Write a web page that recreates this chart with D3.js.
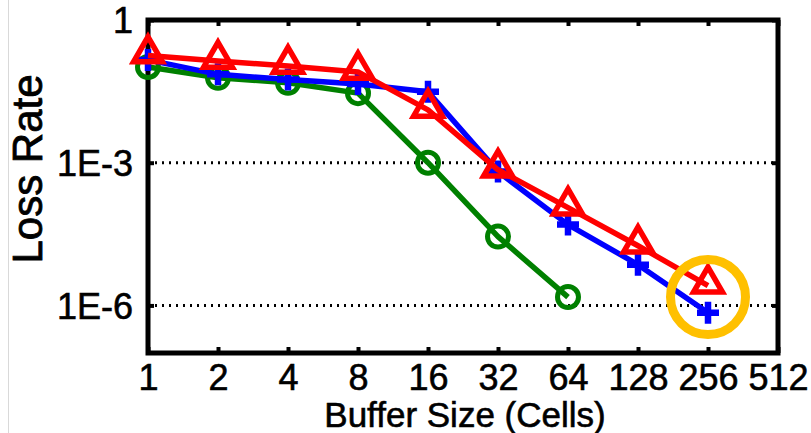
<!DOCTYPE html>
<html>
<head>
<meta charset="utf-8">
<script src="https://cdn.jsdelivr.net/npm/d3@7"></script>
<style>
  html, body { margin: 0; padding: 0; background: #fff; }
  svg { display: block; font-family: "Liberation Sans", Arial, sans-serif; }
</style>
</head>
<body>
<svg id="chart" width="811" height="433"></svg>
<script>
// ---- data ----
const bufferSizes = [1, 2, 4, 8, 16, 32, 64, 128, 256];
const xTickValues = [1, 2, 4, 8, 16, 32, 64, 128, 256, 512];
const yTickValues = [1, 1e-3, 1e-6];
const yTickLabels = ["1", "1E-3", "1E-6"];
const blueLoss  = [0.145, 0.072, 0.056, 0.045, 0.031, 6.5e-4, 5.0e-5, 7.2e-6, 7.0e-7];
const redLoss   = [0.18, 0.138, 0.108, 0.081, 0.0129, 7.1e-4, 1.14e-4, 1.8e-5, 2.6e-6];
const greenLoss = [0.103, 0.061, 0.048, 0.029, 1.0e-3, 2.8e-5, 1.5e-6];
const highlightPoint = { x: 256, y: 1.5e-6 };
const xLabel = "Buffer Size (Cells)";
const yLabel = "Loss Rate";

// ---- layout ----
const W = 811, H = 433;
const margin = { left: 148, right: 33, top: 20, bottom: 80 };
const svg = d3.select("#chart");

const x = d3.scaleLog().base(2).domain([1, 512]).range([margin.left, W - margin.right]);
const y = d3.scaleLog().domain([1e-7, 1]).range([H - margin.bottom, margin.top]);

// faint page border line on the left
svg.append("line").attr("x1", 8.5).attr("x2", 8.5).attr("y1", 0).attr("y2", H)
  .attr("stroke", "#d9d9d9").attr("stroke-width", 1);

// grid lines (dotted) at 1E-3 and 1E-6
svg.append("g").selectAll("line").data([1e-3, 1e-6]).join("line")
  .attr("x1", x(1)).attr("x2", x(512))
  .attr("y1", d => y(d)).attr("y2", d => y(d))
  .attr("stroke", "#000").attr("stroke-width", 3)
  .attr("stroke-dasharray", "2,5");

// axes with inward ticks
const tickFont = "36px";
const xAxisBottom = d3.axisBottom(x).tickValues(xTickValues).tickSize(-6).tickPadding(11)
  .tickFormat(d => String(d));
const gxb = svg.append("g").attr("transform", `translate(0,${y(1e-7)})`).call(xAxisBottom);
const xAxisTop = d3.axisTop(x).tickValues(xTickValues).tickSize(-6).tickFormat("");
const gxt = svg.append("g").attr("transform", `translate(0,${y(1)})`).call(xAxisTop);
const yAxisLeft = d3.axisLeft(y).tickValues(yTickValues).tickSize(-6).tickPadding(15)
  .tickFormat((d, i) => yTickLabels[i]);
const gyl = svg.append("g").attr("transform", `translate(${x(1)},0)`).call(yAxisLeft);
const yAxisRight = d3.axisRight(y).tickValues(yTickValues).tickSize(-6).tickFormat("");
const gyr = svg.append("g").attr("transform", `translate(${x(512)},0)`).call(yAxisRight);

[gxb, gxt, gyl, gyr].forEach(g => {
  g.select(".domain").remove();
  g.selectAll(".tick line").attr("stroke", "#000").attr("stroke-width", 4);
  g.selectAll(".tick text").attr("fill", "#000").style("font-size", tickFont)
    .style("font-family", '"Liberation Sans", Arial, sans-serif')
    .attr("stroke", "#000").attr("stroke-width", 0.6);
});
gxb.selectAll(".tick text").attr("dy", "0.71em");
gyl.selectAll(".tick text").attr("dy", "0.36em");

// frame
svg.append("rect")
  .attr("x", x(1)).attr("y", y(1))
  .attr("width", x(512) - x(1)).attr("height", y(1e-7) - y(1))
  .attr("fill", "none").attr("stroke", "#000").attr("stroke-width", 5);

// series
const line = d3.line().x(d => x(d[0])).y(d => y(d[1]));
function series(vals) {
  return vals.map((v, i) => [bufferSizes[i], v]);
}
const greenData = series(greenLoss);
const blueData = series(blueLoss);
const redData = series(redLoss);

const plot = svg.append("g");
// green
plot.append("path").attr("d", line(greenData)).attr("fill", "none")
  .attr("stroke", "#008000").attr("stroke-width", 5.5).attr("stroke-linejoin", "round");
plot.append("g").selectAll("circle").data(greenData).join("circle")
  .attr("cx", d => x(d[0])).attr("cy", d => y(d[1])).attr("r", 10.5)
  .attr("fill", "none").attr("stroke", "#008000").attr("stroke-width", 5);
// blue
plot.append("path").attr("d", line(blueData)).attr("fill", "none")
  .attr("stroke", "#0000ff").attr("stroke-width", 5.5).attr("stroke-linejoin", "round");
plot.append("g").selectAll("path").data(blueData).join("path")
  .attr("d", d => {
    const cx = x(d[0]), cy = y(d[1]), a = 11;
    return `M${cx - a},${cy}H${cx + a}M${cx},${cy - a}V${cy + a}`;
  })
  .attr("fill", "none").attr("stroke", "#0000ff").attr("stroke-width", 6.5);
// red
plot.append("path").attr("d", line(redData)).attr("fill", "none")
  .attr("stroke", "#ff0000").attr("stroke-width", 5.5).attr("stroke-linejoin", "round");
const tri = d3.symbol().type(d3.symbolTriangle).size(360);
plot.append("g").selectAll("path").data(redData).join("path")
  .attr("transform", d => `translate(${x(d[0])},${y(d[1]) - 2})`)
  .attr("d", tri)
  .attr("fill", "none").attr("stroke", "#ff0000").attr("stroke-width", 5.5)
  .attr("stroke-linejoin", "miter");

// highlight ring
svg.append("circle")
  .attr("cx", x(highlightPoint.x)).attr("cy", y(highlightPoint.y)).attr("r", 37.5)
  .attr("fill", "none").attr("stroke", "#ffc000").attr("stroke-width", 9);

// axis labels
svg.append("text")
  .attr("x", (x(1) + x(512)) / 2 + 2).attr("y", 427)
  .attr("text-anchor", "middle").style("font-size", "35px")
  .attr("stroke", "#000").attr("stroke-width", 0.6)
  .attr("fill", "#000")
  .text(xLabel);
svg.append("text")
  .attr("transform", "translate(42,169) rotate(-90)")
  .attr("text-anchor", "middle").style("font-size", "42px")
  .attr("stroke", "#000").attr("stroke-width", 0.8)
  .attr("fill", "#000")
  .text(yLabel);
</script>
</body>
</html>
